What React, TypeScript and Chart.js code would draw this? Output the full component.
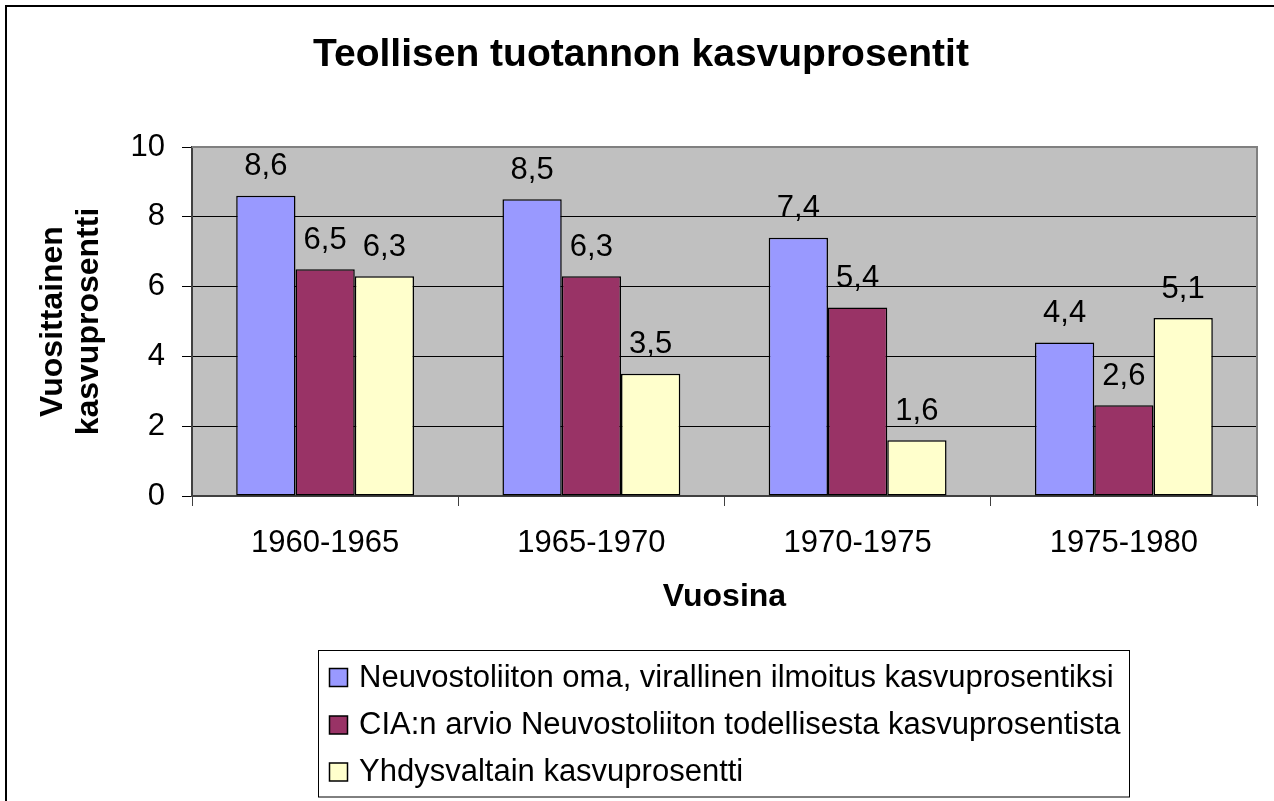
import React, { useEffect, useRef } from 'react';
import { Chart, registerables } from 'chart.js';

Chart.register(...registerables);

const categories = ['1960-1965', '1965-1970', '1970-1975', '1975-1980'];
const sovietOfficial = [8.6, 8.5, 7.4, 4.4];
const ciaEstimate = [6.5, 6.3, 5.4, 2.6];
const usGrowth = [6.3, 3.5, 1.6, 5.1];
const seriesLabels = [
  'Neuvostoliiton oma, virallinen ilmoitus kasvuprosentiksi',
  'CIA:n arvio Neuvostoliiton todellisesta kasvuprosentista',
  'Yhdysvaltain kasvuprosentti',
];
const seriesColors = ['#9999FF', '#993366', '#FFFFCC'];
const yTicks = [0, 2, 4, 6, 8, 10];
const chartTitle = 'Teollisen tuotannon kasvuprosentit';
const xTitle = 'Vuosina';
const yTitle = ['Vuosittainen', 'kasvuprosentti'];

const FONT = '"Liberation Sans", Arial, sans-serif';

const decorPlugin = {
  id: 'decor',
  beforeDraw(chart: any) {
    const ctx = chart.ctx;
    const a = chart.chartArea;
    ctx.save();
    ctx.fillStyle = '#FFFFFF';
    ctx.fillRect(0, 0, chart.width, chart.height);
    ctx.fillStyle = '#C0C0C0';
    ctx.fillRect(a.left, a.top, a.right - a.left, a.bottom - a.top);
    ctx.strokeStyle = '#000000';
    ctx.lineWidth = 2;
    ctx.strokeRect(6, 6, chart.width + 50, chart.height + 50);
    ctx.restore();
  },
  beforeDatasetsDraw(chart: any) {
    const ctx = chart.ctx;
    const a = chart.chartArea;
    ctx.save();
    ctx.strokeStyle = '#808080';
    ctx.lineWidth = 2;
    ctx.beginPath();
    ctx.moveTo(a.left, a.top);
    ctx.lineTo(a.right, a.top);
    ctx.lineTo(a.right, a.bottom);
    ctx.stroke();
    ctx.restore();
  },
  afterDatasetsDraw(chart: any) {
    const ctx = chart.ctx;
    ctx.save();
    ctx.fillStyle = '#000000';
    ctx.font = `31px ${FONT}`;
    ctx.textAlign = 'center';
    ctx.textBaseline = 'middle';
    chart.data.datasets.forEach((ds: any, i: number) => {
      const meta = chart.getDatasetMeta(i);
      meta.data.forEach((el: any, j: number) => {
        const txt = String(ds.data[j]).replace('.', ',');
        ctx.fillText(txt, el.x, el.y - 29);
      });
    });
    ctx.restore();
  },
  afterDraw(chart: any) {
    const ctx = chart.ctx;
    const a = chart.chartArea;
    ctx.save();
    ctx.fillStyle = '#000000';
    ctx.textAlign = 'center';
    ctx.textBaseline = 'middle';
    ctx.font = `bold 39px ${FONT}`;
    ctx.fillText(chartTitle, 641, 55);
    ctx.font = `bold 32px ${FONT}`;
    ctx.fillText(xTitle, (a.left + a.right) / 2, 597);
    const cy = (a.top + a.bottom) / 2;
    const xs = [53, 89];
    yTitle.forEach((t, i) => {
      ctx.save();
      ctx.translate(xs[i], cy);
      ctx.rotate(-Math.PI / 2);
      ctx.fillText(t, 0, 0);
      ctx.restore();
    });
    const lx = 318.5, ly = 650.5, lw = 811, lh = 146.5;
    ctx.fillStyle = '#FFFFFF';
    ctx.fillRect(lx, ly, lw, lh);
    ctx.strokeStyle = '#000000';
    ctx.lineWidth = 1;
    ctx.strokeRect(lx, ly, lw, lh);
    const rows = [677, 724.5, 771.5];
    ctx.textAlign = 'left';
    ctx.font = `31px ${FONT}`;
    chart.data.datasets.forEach((ds: any, i: number) => {
      const y = rows[i];
      ctx.fillStyle = ds.backgroundColor;
      ctx.fillRect(329.5, y - 8.5, 18, 18);
      ctx.strokeStyle = '#000000';
      ctx.lineWidth = 1.5;
      ctx.strokeRect(329.5, y - 8.5, 18, 18);
      ctx.fillStyle = '#000000';
      ctx.fillText(ds.label, 359, y + 1);
    });
    ctx.restore();
  },
};

export default function App() {
  const ref = useRef<HTMLCanvasElement | null>(null);
  useEffect(() => {
    document.body.style.margin = '0';
    const canvas = ref.current;
    if (!canvas) return;
    const datasetValues = [sovietOfficial, ciaEstimate, usGrowth];
    const chart = new Chart(canvas, {
      type: 'bar',
      data: {
        labels: categories,
        datasets: datasetValues.map((vals, i) => ({
          label: seriesLabels[i],
          data: vals,
          backgroundColor: seriesColors[i],
          borderColor: '#000000',
          borderWidth: 1.5,
          borderSkipped: false,
          barPercentage: 1,
          categoryPercentage: 0.668,
        })),
      },
      options: {
        responsive: false,
        animation: false,
        devicePixelRatio: 1,
        layout: { padding: { top: 147, right: 17, left: 0, bottom: 0 } },
        plugins: {
          legend: { display: false },
          title: { display: false },
          tooltip: { enabled: false },
        },
        scales: {
          x: {
            type: 'category',
            offset: true,
            grid: {
              display: true,
              drawOnChartArea: false,
              drawTicks: true,
              tickLength: 10,
              tickColor: '#404040',
              offset: true,
            },
            border: { display: true, color: '#404040', width: 2 },
            ticks: {
              color: '#000000',
              font: { family: FONT, size: 31 },
              padding: 19,
              maxRotation: 0,
            },
            afterFit: (scale: any) => {
              scale.height = 305;
            },
          },
          y: {
            min: 0,
            max: 10,
            afterBuildTicks: (scale: any) => {
              scale.ticks = yTicks.map((v) => ({ value: v }));
            },
            grid: {
              color: '#000000',
              lineWidth: 1,
              drawTicks: true,
              tickLength: 10,
              tickColor: '#000000',
            },
            border: { display: true, color: '#404040', width: 2 },
            ticks: {
              color: '#000000',
              font: { family: FONT, size: 31 },
              padding: 17,
              callback: (v: any) => String(v),
            },
            afterFit: (scale: any) => {
              scale.width = 192;
            },
          },
        },
      },
      plugins: [decorPlugin],
    });
    return () => chart.destroy();
  }, []);
  return (
    <div style={{ position: 'absolute', left: 0, top: 0, width: 1274, height: 801 }}>
      <canvas ref={ref} width={1274} height={801} style={{ width: 1274, height: 801, display: 'block' }} />
    </div>
  );
}
